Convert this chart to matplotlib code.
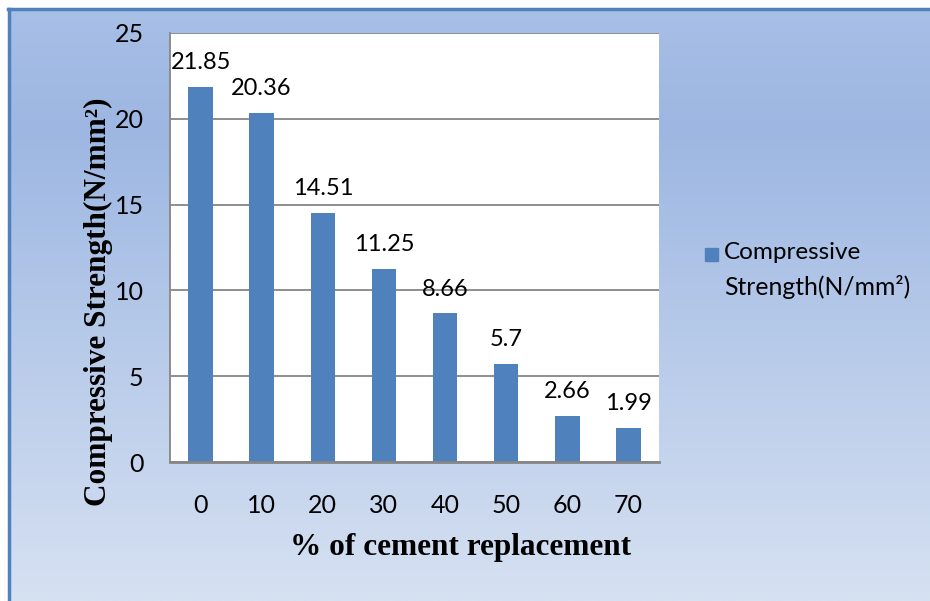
import numpy as np
import matplotlib
matplotlib.use("Agg")
import matplotlib.pyplot as plt
from matplotlib.colors import LinearSegmentedColormap
from matplotlib.patches import Rectangle

# data
replacement = ["0", "10", "20", "30", "40", "50", "60", "70"]
strength = [21.85, 20.36, 14.51, 11.25, 8.66, 5.7, 2.66, 1.99]
series_name = ["Compressive", "Strength(N/mm²)"]

BAR = "#4f81bd"
W, H = 930, 601

fig = plt.figure(figsize=(W / 100, H / 100), dpi=100)
fig.patch.set_facecolor("white")

# chart area background with vertical gradient
bg = fig.add_axes([9 / W, 0, 1 - 9 / W, 1 - 9 / H], zorder=0)
cmap = LinearSegmentedColormap.from_list(
    "bg", [(0, "#a8bfe6"), (0.2, "#9db7e2"), (1.0, "#d6e1f2")])
bg.imshow(np.linspace(0, 1, 256).reshape(-1, 1), aspect="auto", cmap=cmap,
          extent=[0, 1, 0, 1], origin="upper")
bg.set_xlim(0, 1); bg.set_ylim(0, 1)
bg.axis("off")
fig.add_artist(plt.Line2D([8 / W, 1], [1 - 9 / H, 1 - 9 / H], color=BAR, lw=2.5))
fig.add_artist(plt.Line2D([9 / W, 9 / W], [0, 1 - 9 / H], color=BAR, lw=2.5))

# plot area
left, right, top, bottom = 170, 659, 33, 462
ax = fig.add_axes([left / W, 1 - bottom / H, (right - left) / W, (bottom - top) / H], zorder=1)
ax.set_facecolor("white")
x = np.arange(len(replacement))
ax.bar(x, strength, width=0.4, color=BAR, zorder=2)
ax.set_xlim(-0.5, len(replacement) - 0.5)
ax.set_ylim(0, 25)
ax.set_yticks([0, 5, 10, 15, 20, 25])
ax.set_xticks(x, replacement)
ax.yaxis.grid(True, color="#868686", lw=1.3, zorder=0)
ax.set_axisbelow(True)
for s in ["top", "right"]:
    ax.spines[s].set_visible(False)
ax.spines["left"].set_color("#868686")
ax.spines["left"].set_linewidth(1.3)
ax.spines["bottom"].set_color("#868686")
ax.spines["bottom"].set_linewidth(2)
ax.tick_params(length=0, labelsize=18)
ax.tick_params(axis="y", pad=19)
ax.tick_params(axis="x", pad=23)
for lab in ax.get_xticklabels() + ax.get_yticklabels():
    lab.set_fontfamily("Lato")

for xi, v in zip(x, strength):
    ax.annotate(f"{v:g}", (xi, v), xytext=(0, 10), textcoords="offset points",
                ha="center", va="bottom", fontsize=17, fontfamily="Lato")

# axis titles (placed where the reference has them)
fig.text(461 / W, 1 - 548 / H, "% of cement replacement", ha="center", va="center",
         fontfamily="Liberation Serif", fontweight="bold", fontsize=22.5)
fig.text(98 / W, 1 - 302 / H, "Compressive Strength(N/mm²)", ha="center", va="center",
         rotation=90, fontfamily="Liberation Serif", fontweight="bold", fontsize=22.5)

# legend: square key aligned with the first line of the two-line label
fig.patches.append(Rectangle((705 / W, 1 - 261 / H), 13 / W, 13 / H,
                             transform=fig.transFigure, color=BAR))
fig.text(724 / W, 1 - 252 / H, series_name[0], ha="left", va="center",
         fontfamily="Lato", fontsize=17.5)
fig.text(724 / W, 1 - 287 / H, series_name[1], ha="left", va="center",
         fontfamily="Lato", fontsize=17.8)

fig.savefig("out.png", dpi=100)
